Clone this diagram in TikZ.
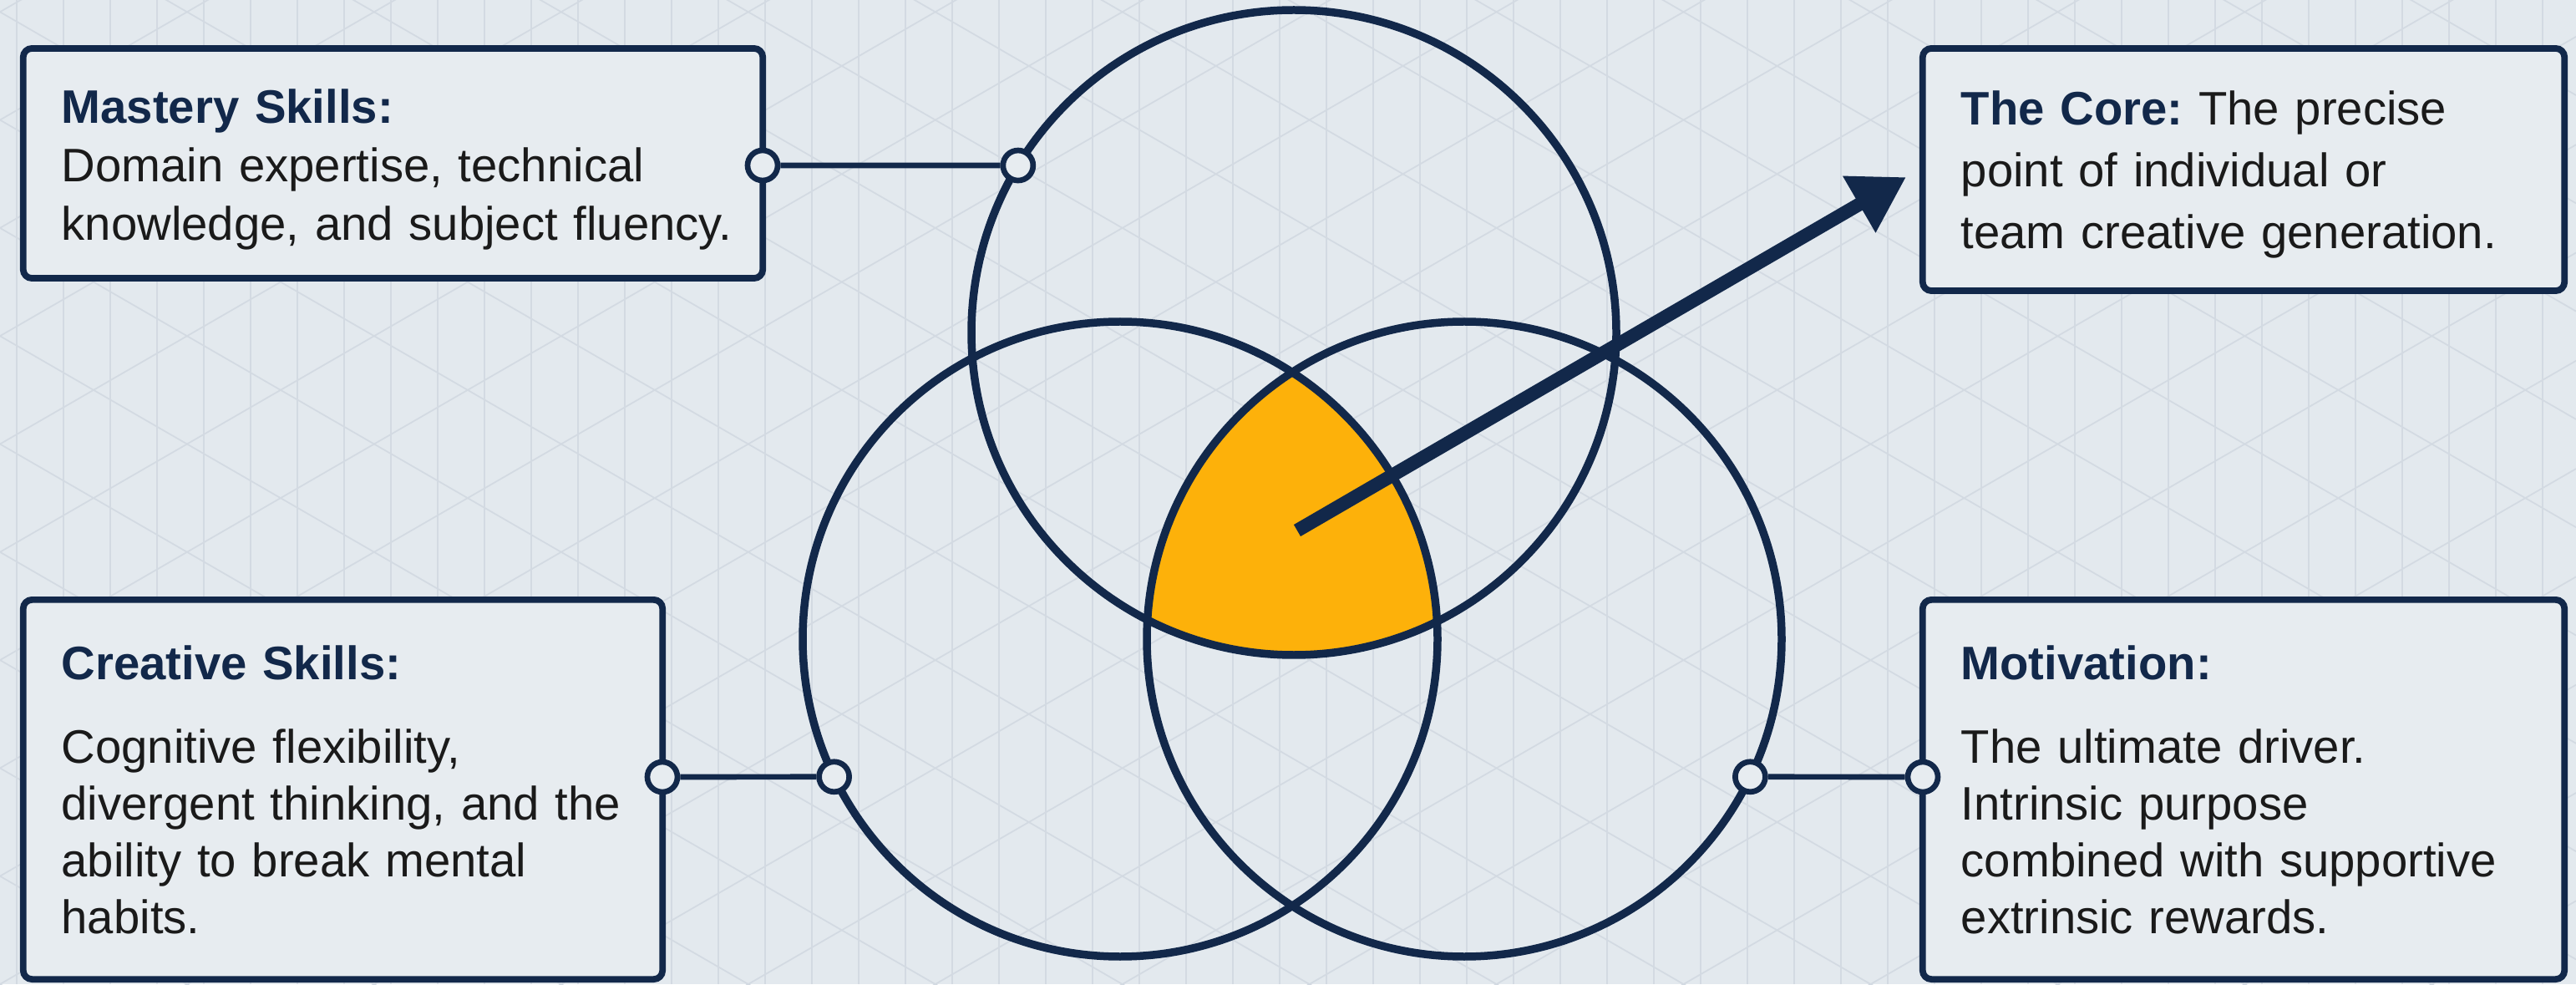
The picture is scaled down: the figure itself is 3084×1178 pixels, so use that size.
\documentclass[tikz,border=0pt]{standalone}
\usepackage{fontspec}
\setmainfont{Liberation Sans}
\usetikzlibrary{arrows.meta,calc}
\definecolor{bgc}{HTML}{E3E9EE}
\definecolor{gridc}{HTML}{D3DAE2}
\definecolor{navy}{HTML}{12284A}
\definecolor{gold}{HTML}{FDB10A}
\definecolor{boxc}{HTML}{E7ECF0}
\definecolor{ink}{HTML}{1A1A1A}
\begin{document}
\begin{tikzpicture}[x=0.01cm,y=0.01cm,
  gridline/.style={gridc, line width=0.5pt},
  ring/.style={navy, line width=2.7pt},
  infobox/.style={draw=navy, line width=2.2pt, fill=boxc, rounded corners=3pt, inner sep=0pt},
  txt/.style={anchor=base west, align=left, inner sep=0pt, text width=10cm, text=ink},
  conn/.style={navy, line width=1.9pt},
  dot/.style={circle, draw=navy, line width=1.9pt, fill=boxc, minimum size=0.36cm, inner sep=0pt},
  pointer/.style={navy, line width=4.6pt, -{Triangle[length=18.5pt,width=21pt]}}
]
% background
\fill[bgc] (0,0) rectangle (3084,1178);
\useasboundingbox (0,0) rectangle (3084,1178);
\begin{scope}
  \clip (0,0) rectangle (3084,1178);
  \foreach \i in {0,...,55} \draw[gridline] (\i*56+20,0) -- (\i*56+20,1178);
  \foreach \k in {-14,...,10} \draw[gridline] (0,\k*129.3) -- (3084,\k*129.3+1780.6);
  \foreach \k in {0,...,23} \draw[gridline] (0,\k*129.3) -- (3084,\k*129.3-1780.6);
\end{scope}

% circle centres
\coordinate (ctop) at (1549,780);
\coordinate (cleft) at (1341,413);
\coordinate (cright) at (1753,413);

% core intersection
\begin{scope}
  \clip (ctop) circle[radius=386];
  \clip (cleft) circle[radius=380];
  \fill[gold] (cright) circle[radius=380];
\end{scope}
\draw[ring] (ctop) circle[radius=386];
\draw[ring] (cleft) circle[radius=380];
\draw[ring] (cright) circle[radius=380];

% boxes
\node[infobox, minimum width=8.85cm, minimum height=2.75cm] (mastery) at (470.5,982.5) {};
\node[infobox, minimum width=7.68cm, minimum height=2.90cm] (core) at (2686,975) {};
\node[infobox, minimum width=7.65cm, minimum height=4.54cm] (creative) at (410.5,233) {};
\node[infobox, minimum width=7.68cm, minimum height=4.54cm] (motiv) at (2686,233) {};

% texts
\node[txt, font=\fontsize{16pt}{19.9pt}\selectfont] (mtext) at (73,1030)
  {{\bfseries\color{navy}Mastery Skills:}\\Domain expertise, technical\\knowledge, and subject fluency.};
\node[txt, font=\fontsize{16pt}{21pt}\selectfont] (ctext) at (2347,1028)
  {{\bfseries\color{navy}The Core:}\ The precise\\point of individual or\\team creative generation.};
\node[txt, font=\fontsize{16pt}{19.35pt}\selectfont] (crtext) at (73,365)
  {{\bfseries\color{navy}Creative Skills:}\\[9.1pt]Cognitive flexibility,\\divergent thinking, and the\\ability to break mental\\habits.};
\node[txt, font=\fontsize{16pt}{19.35pt}\selectfont] (motext) at (2347,365)
  {{\bfseries\color{navy}Motivation:}\\[9.1pt]The ultimate driver.\\Intrinsic purpose\\combined with supportive\\extrinsic rewards.};

% arrow from the core to its label
\coordinate (tail) at (1553,543);
\coordinate (tip) at (2282,966);
\draw[pointer] (tail) -- (tip);

% connectors
\node[dot] (m1) at (913,980) {};
\node[dot] (m2) at ($(ctop)+(148.8:386)$) {};
\node[dot] (c1) at (793,248) {};
\node[dot] (c2) at ($(cleft)+(205.7:380)$) {};
\node[dot] (v1) at (2302,248) {};
\node[dot] (v2) at ($(cright)+(-25.7:380)$) {};
\draw[conn] (m1) -- (m2);
\draw[conn] (c1) -- (c2);
\draw[conn] (v2) -- (v1);
\end{tikzpicture}
\end{document}
